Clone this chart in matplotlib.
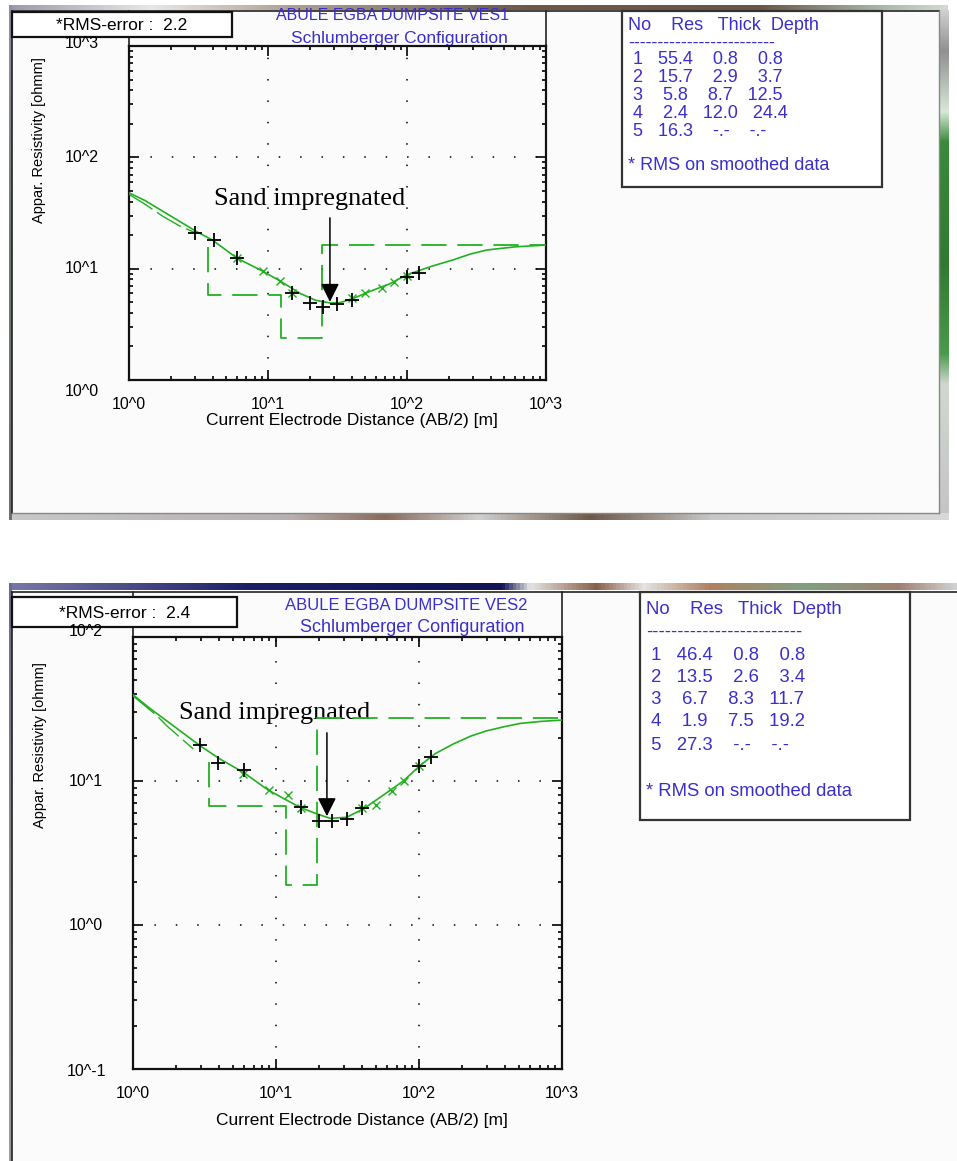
import numpy as np
import matplotlib.pyplot as plt
from matplotlib.patches import Rectangle
from matplotlib.colors import LinearSegmentedColormap
from matplotlib.transforms import blended_transform_factory

W, H = 957, 1161
GREEN = '#22b022'
BLUE = '#3a2fcc'

# ---------------- VES1 ----------------
ves1_res = [55.4, 15.7, 5.8, 2.4, 16.3]
ves1_thick = [0.8, 2.9, 8.7, 12.0]
ves1_depth = [0.8, 3.7, 12.5, 24.4]
ves1_rms = 2.2
ves1_field_ab2 = [3.0, 4.1, 6.0, 15.0, 20.0, 25.0, 31.5, 40.0, 100.0, 122.0]
ves1_field_rho = [21.1, 18.1, 12.4, 6.0, 4.9, 4.5, 4.8, 5.2, 8.5, 9.2]
ves1_smooth_ab2 = [6.0, 9.2, 12.2, 15.0, 40.0, 50.0, 66.0, 81.0, 100.0]
ves1_smooth_rho = [12.4, 9.6, 7.8, 6.1, 5.4, 6.0, 6.75, 7.55, 8.6]
ves1_calc_ab2 = [1.0, 1.3, 1.77, 2.3, 3.07, 4.0, 6.0, 9.0, 12.2, 17.0, 22.0, 28.0,
                 33.0, 41.0, 55.0, 75.0, 99.5, 150.0, 215.0, 284.0, 374.0, 450.0,
                 600.0, 1000.0]
ves1_calc_rho = [48.0, 41.0, 32.5, 26.7, 21.5, 18.0, 12.4, 9.6, 7.76, 6.0, 5.2, 4.92,
                 4.95, 5.4, 6.3, 7.3, 8.8, 10.5, 12.0, 13.5, 14.7, 15.1,
                 15.7, 16.3]
ves1_start_ab2 = [1.0, 1.3, 1.77, 2.3, 3.0]
ves1_start_rho = [46.5, 38.0, 29.3, 24.3, 21.0]

# ---------------- VES2 ----------------
ves2_res = [46.4, 13.5, 6.7, 1.9, 27.3]
ves2_thick = [0.8, 2.6, 8.3, 7.5]
ves2_depth = [0.8, 3.4, 11.7, 19.2]
ves2_rms = 2.4
ves2_field_ab2 = [2.94, 3.95, 5.97, 15.0, 20.0, 24.8, 31.2, 40.0, 100.0, 121.0]
ves2_field_rho = [17.8, 13.3, 11.9, 6.56, 5.3, 5.3, 5.45, 6.46, 12.8, 14.7]
ves2_smooth_ab2 = [5.9, 8.9, 12.1, 15.0, 40.0, 49.8, 65.0, 78.9, 100.0]
ves2_smooth_rho = [11.2, 8.6, 8.0, 6.5, 6.5, 6.8, 8.5, 9.95, 12.7]
ves2_calc_ab2 = [1.0, 1.3, 1.8, 2.94, 4.06, 5.9, 8.8, 14.7, 19.0, 23.9, 31.2, 40.8,
                 55.0, 77.6, 101.6, 130.0, 174.0, 230.0, 297.0, 400.0, 508.0, 700.0,
                 1000.0]
ves2_calc_rho = [39.7, 32.2, 25.3, 17.6, 14.2, 11.5, 8.66, 6.56, 5.95, 5.5, 5.6, 6.4,
                 7.85, 10.0, 12.8, 15.5, 18.1, 20.5, 22.3, 23.9, 25.1, 25.9,
                 26.5]
ves2_start_ab2 = [1.0, 1.47, 1.72, 2.64]
ves2_start_rho = [39.0, 28.4, 24.2, 16.7]

plt.rcParams['font.family'] = ['Liberation Sans', 'DejaVu Sans']

fig = plt.figure(figsize=(W / 100, H / 100), dpi=100)
bg = fig.add_axes([0, 0, 1, 1], zorder=0)
bg.set_xlim(0, W)
bg.set_ylim(H, 0)
bg.axis('off')


def grad(x0, x1, y0, y1, cols, vertical=False):
    cmap = LinearSegmentedColormap.from_list('g', cols)
    arr = np.linspace(0, 1, 256)
    arr = arr.reshape(-1, 1) if vertical else arr.reshape(1, -1)
    bg.imshow(arr, cmap=cmap, extent=(x0, x1, y1, y0), aspect='auto', zorder=1)


def hline(x0, x1, y, **kw):
    bg.plot([x0, x1], [y, y], color=kw.get('c', '#222222'), lw=kw.get('lw', 1.2), zorder=3)


def vline(x, y0, y1, **kw):
    bg.plot([x, x], [y0, y1], color=kw.get('c', '#222222'), lw=kw.get('lw', 1.2), zorder=3)


def px_axes(l, t, r, b):
    return fig.add_axes([l / W, 1 - b / H, (r - l) / W, (b - t) / H], zorder=2)


# window chrome, panel 1
bg.add_patch(Rectangle((12, 11), 927, 502, facecolor='#fbfbfb', edgecolor='none', zorder=0.5))
grad(9, 948, 5, 10, [(0, '#9a9aaa'), (0.15, '#e8e8e8'), (0.3, '#b0a090'), (0.55, '#6e5848'),
                      (0.8, '#6a5545'), (0.93, '#a8b8a8'), (1, '#d0dcd0')])
grad(939, 949, 10, 516, [(0, '#d0d0d0'), (0.08, '#909090'), (0.2, '#d8e8d8'), (0.26, '#3a8a3a'),
                          (0.5, '#2f7a30'), (0.68, '#4a9a4a'), (0.74, '#d0d8d0'), (1, '#c4c4c4')],
     vertical=True)
grad(9, 949, 513, 520, [(0, '#c8c8c8'), (0.3, '#b8b0b0'), (0.4, '#8a6a5a'), (0.5, '#d0d0d0'),
                         (0.62, '#6e5848'), (0.75, '#c8c8c8'), (1, '#d8d8d8')])
grad(9, 12, 5, 520, ['#9090a8', '#6a786a', '#707070'], vertical=True)
hline(12, 939, 11)
vline(12, 11, 513)
hline(12, 939, 513, c='#888888', lw=1)
vline(939, 11, 513, c='#888888', lw=1)

# window chrome, panel 2
bg.add_patch(Rectangle((12, 592), 945, H - 592, facecolor='#fbfbfb', edgecolor='none', zorder=0.5))
grad(9, 957, 583, 590, [(0, '#7878a8'), (0.25, '#1e1e66'), (0.52, '#121255'), (0.55, '#e4e4e4'),
                         (0.62, '#8a6048'), (0.67, '#e4e4e4'), (0.74, '#b08060'), (0.84, '#80a080'),
                         (0.94, '#a08070'), (1, '#d0d0d0')])
grad(9, 12, 583, H, ['#6a6a8a', '#8a8a8a', '#9a9a9a'], vertical=True)
hline(12, 957, 592)
vline(12, 592, H)

panels = [
    dict(name='VES1', res=ves1_res, depth=ves1_depth, thick=ves1_thick, rms=ves1_rms,
         fab=ves1_field_ab2, frho=ves1_field_rho, sab=ves1_smooth_ab2, srho=ves1_smooth_rho,
         cab=ves1_calc_ab2, crho=ves1_calc_rho, stab=ves1_start_ab2, strho=ves1_start_rho,
         box=(129, 46, 546, 380), top=11, ylim=(1, 1000), rmsbox=(12, 12, 232, 37),
         title_x=393, title_y=(16, 38), title_fs=(11.5, 12.5), info=(622, 11, 882, 187),
         info_fs=13, info_y=(25, 43, [60, 78, 96, 113, 131], 166), xlab_y=420,
         ylab=(39, 140), ylab_off=(-3, 12), arrow=(27.9, 30.3, 4.75), text_xy=(310, 199)),
    dict(name='VES2', res=ves2_res, depth=ves2_depth, thick=ves2_thick, rms=ves2_rms,
         fab=ves2_field_ab2, frho=ves2_field_rho, sab=ves2_smooth_ab2, srho=ves2_smooth_rho,
         cab=ves2_calc_ab2, crho=ves2_calc_rho, stab=ves2_start_ab2, strho=ves2_start_rho,
         box=(133, 637, 562, 1069), top=592, ylim=(0.1, 100), rmsbox=(12, 597, 237, 627),
         title_x=406, title_y=(605, 628), title_fs=(12, 13), info=(640, 592, 910, 820),
         info_fs=13.3, info_y=(610, 632, [655, 678, 700, 722, 746], 792), xlab_y=1120,
         ylab=(40, 745), ylab_off=(-6, 3), arrow=(22.7, 22.6, 5.45), text_xy=(275, 713)),
]

for p in panels:
    l, t, r, b = p['box']
    ax = px_axes(l, t, r, b)
    ax.set_facecolor('none')
    ax.set_xscale('log')
    ax.set_yscale('log')
    ax.set_xlim(1, 1000)
    ax.set_ylim(*p['ylim'])

    # layer model as step line, from the first boundary inside the plot
    sx, sy = [p['depth'][1]], [p['res'][1]]
    for i in range(1, len(p['depth'])):
        sx.append(p['depth'][i])
        sy.append(p['res'][i + 1])
        nxt = p['depth'][i + 1] if i + 1 < len(p['depth']) else 1000
        sx.append(nxt)
        sy.append(p['res'][i + 1])
    ax.plot(sx, sy, color=GREEN, lw=1.3, dashes=(14, 6), zorder=2)

    ax.plot(p['stab'], p['strho'], color=GREEN, lw=1.0, dashes=(20, 4), zorder=3)
    ax.plot(p['cab'], p['crho'], color=GREEN, lw=1.2, zorder=3)
    ax.plot(p['sab'], p['srho'], 'x', color=GREEN, ms=6, mew=1.0, zorder=4)
    ax.plot(p['fab'], p['frho'], '+', color='black', ms=10, mew=1.3, zorder=5)

    # ticks
    ax.tick_params(which='both', direction='in', top=True, right=True, width=1.2)
    ax.tick_params(which='major', length=7)
    ax.tick_params(which='minor', length=3)
    ax.set_xticks([1, 10, 100, 1000])
    ax.set_xticklabels(['10^0', '10^1', '10^2', '10^3'], fontsize=11.5)
    ax.tick_params(axis='x', pad=12)
    lo, hi = [int(round(np.log10(v))) for v in p['ylim']]
    ydec = [10.0 ** k for k in range(lo, hi + 1)]
    ax.set_yticks(ydec)
    ax.set_yticklabels([])
    tr = blended_transform_factory(ax.transAxes, ax.transData)
    ax_h = b - t
    for k, v in zip(range(lo, hi + 1), ydec):
        off = p['ylab_off'][0] if k == hi else (p['ylab_off'][1] if k == lo else 0)
        ypos = 10 ** (k - off / ax_h * (hi - lo))
        ax.text(-47 / (r - l), ypos, '10^%d' % k, transform=tr, ha='center', va='center',
                fontsize=11.5, clip_on=False)
    for s in ax.spines.values():
        s.set_linewidth(1.6)
        s.set_color('#111111')
    ax.grid(True, which='major', color='black', lw=1.1, linestyle=(0, (1, 13)))

    bg.text((l + r) / 2 + 14, p['xlab_y'], 'Current Electrode Distance (AB/2) [m]',
            ha='center', va='center', fontsize=12.5, zorder=4)
    bg.text(p['ylab'][0], p['ylab'][1], 'Appar. Resistivity [ohmm]', rotation=90,
            ha='center', va='center', fontsize=10.5, zorder=4)

    # annotation
    ax.annotate('', xy=(p['arrow'][0], p['arrow'][2]), xytext=(p['arrow'][0], p['arrow'][1]),
                arrowprops=dict(arrowstyle='-|>', mutation_scale=28, lw=1.1, color='black'),
                zorder=6)
    bg.text(p['text_xy'][0], p['text_xy'][1], 'Sand impregnated', family='Liberation Serif',
            fontsize=19, ha='center', va='center', zorder=6)

    # title box
    vline(l, p['top'], t)
    vline(r, p['top'], t)
    bg.text(p['title_x'], p['title_y'][0], 'ABULE EGBA DUMPSITE %s' % p['name'], color=BLUE,
            ha='center', va='center', fontsize=p['title_fs'][0], zorder=4)
    bg.text(p['title_x'] + 6, p['title_y'][1], 'Schlumberger Configuration', color=BLUE,
            ha='center', va='center', fontsize=p['title_fs'][1], zorder=4)

    x0, y0, x1, y1 = p['rmsbox']
    bg.add_patch(Rectangle((x0, y0), x1 - x0, y1 - y0, facecolor='white', edgecolor='#111111',
                           lw=1.6, zorder=5))
    bg.text((x0 + x1) / 2, (y0 + y1) / 2 + 1, '*RMS-error :  %.1f' % p['rms'], ha='center',
            va='center', fontsize=12.5, zorder=6)

    # result table
    x0, y0, x1, y1 = p['info']
    bg.add_patch(Rectangle((x0, y0), x1 - x0, y1 - y0, facecolor='white', edgecolor='#333333',
                           lw=1.6, zorder=5))
    tx = x0 + 6
    fs = p['info_fs']
    hy, dy, rows_y, fy = p['info_y']
    bg.text(tx, hy, 'No    Res   Thick  Depth', color=BLUE, fontsize=fs, va='center', zorder=6)
    bg.text(tx, dy, '-' * 25, color=BLUE, fontsize=fs, va='center', zorder=6)
    for i, yy in enumerate(rows_y):
        if i < len(p['thick']):
            row = '%2d%7.1f%7.1f%7.1f' % (i + 1, p['res'][i], p['thick'][i], p['depth'][i])
        else:
            row = '%2d%7.1f%7s%7s' % (i + 1, p['res'][i], '-.-', '-.-')
        bg.text(tx, yy, row, color=BLUE, fontsize=fs, va='center', zorder=6)
    bg.text(tx, fy, '* RMS on smoothed data', color=BLUE, fontsize=fs, va='center', zorder=6)

fig.savefig('out.png', dpi=100, facecolor='white')
